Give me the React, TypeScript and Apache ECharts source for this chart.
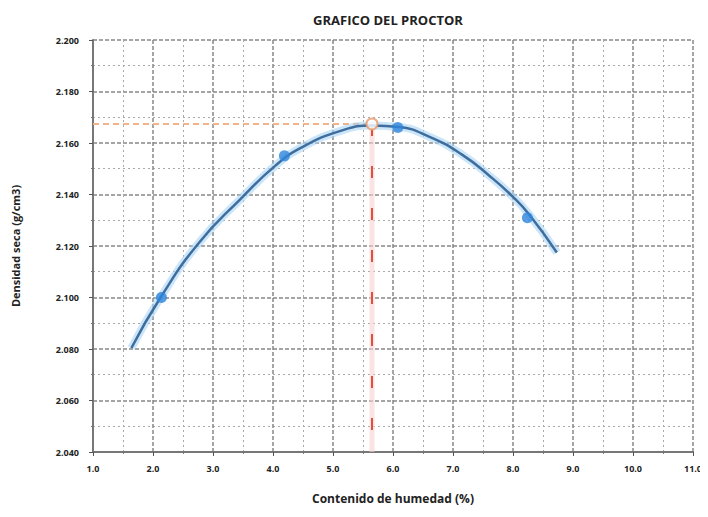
import React, { useEffect, useRef } from "react";
import * as echarts from "echarts";

const curveX = [1.64, 2.12, 2.76, 3.47, 4.04, 4.47, 5.1, 5.65, 6.1, 6.6, 7.15, 7.61, 7.99, 8.27, 8.73];
const curveY = [2.0804, 2.0998, 2.1211, 2.1385, 2.1512, 2.1582, 2.1645, 2.1668, 2.1662, 2.1625, 2.1555, 2.1472, 2.1393, 2.1322, 2.1175];
const pointX = [2.14, 4.19, 6.08, 8.24];
const pointY = [2.1, 2.155, 2.166, 2.131];
const optMoisture = 5.65;
const maxDensity = 2.1674;
const xTicks = { min: 1, max: 11, interval: 1 };
const yTicks = { min: 2.04, max: 2.2, interval: 0.02 };

export default function App() {
  const ref = useRef<HTMLDivElement>(null);
  useEffect(() => {
    if (!ref.current) return;
    const chart = echarts.init(ref.current, null, { renderer: "svg" });
    const curve = curveX.map((x, i) => [x, curveY[i]]);
    const pts = pointX.map((x, i) => [x, pointY[i]]);
    const font = "Open Sans";
    chart.setOption({
      animation: false,
      backgroundColor: "#ffffff",
      title: {
        text: "GRAFICO DEL PROCTOR",
        left: 383,
        top: 8,
        textAlign: "center",
        textStyle: { fontFamily: font, fontWeight: "bold", fontSize: 13, color: "#222" },
      },
      grid: { left: 93, right: 15, top: 40, bottom: 65 },
      xAxis: {
        type: "value",
        min: xTicks.min,
        max: xTicks.max,
        interval: xTicks.interval,
        name: "Contenido de humedad (%)",
        nameLocation: "middle",
        nameGap: 40,
        nameTextStyle: { fontFamily: font, fontWeight: "bold", fontSize: 12, color: "#222" },
        axisLabel: {
          formatter: (v: number) => v.toFixed(1),
          fontFamily: font,
          fontWeight: "bold",
          fontSize: 9,
          color: "#222",
          margin: 12,
        },
        axisLine: { lineStyle: { color: "#777", width: 2 } },
        axisTick: { show: true, length: 4, lineStyle: { color: "#555" } },
        splitLine: { show: true, lineStyle: { color: "#888", type: [4, 2], width: 1.5 } },
        minorTick: { show: true, splitNumber: 2, length: 2 },
        minorSplitLine: { show: true, lineStyle: { color: "#aaa", type: [2, 3], width: 1 } },
      },
      yAxis: {
        type: "value",
        min: yTicks.min,
        max: yTicks.max,
        interval: yTicks.interval,
        name: "Densidad seca (g/cm3)",
        nameLocation: "middle",
        nameGap: 72,
        nameTextStyle: { fontFamily: font, fontWeight: "bold", fontSize: 11, color: "#222" },
        axisLabel: {
          formatter: (v: number) => v.toFixed(3),
          fontFamily: font,
          fontWeight: "bold",
          fontSize: 9,
          color: "#222",
          margin: 14,
        },
        axisLine: { show: true, lineStyle: { color: "#777", width: 2 } },
        axisTick: { show: true, length: 4, lineStyle: { color: "#555" } },
        splitLine: { show: true, lineStyle: { color: "#888", type: [4, 2], width: 1.5 } },
        minorTick: { show: true, splitNumber: 2, length: 2 },
        minorSplitLine: { show: true, lineStyle: { color: "#aaa", type: [2, 3], width: 1 } },
      },
      series: [
        {
          type: "line",
          data: [[xTicks.min, maxDensity], [optMoisture, maxDensity]],
          symbol: "none",
          lineStyle: { color: "#f2b38a", width: 2, type: [6, 4] },
          z: 3,
        },
        {
          type: "line",
          data: [[optMoisture, maxDensity], [optMoisture, yTicks.min]],
          symbol: "none",
          lineStyle: { color: "#f6d0d3", width: 5, opacity: 0.6 },
          z: 3,
        },
        {
          type: "line",
          data: [[optMoisture, maxDensity], [optMoisture, yTicks.min]],
          symbol: "none",
          lineStyle: { color: "#e0503a", width: 2, type: [12, 30] },
          z: 4,
        },
        {
          type: "line",
          data: curve,
          smooth: 0.5,
          symbol: "none",
          lineStyle: { color: "#a9d4f5", width: 8, opacity: 0.6 },
          z: 5,
        },
        {
          type: "line",
          data: curve,
          smooth: 0.5,
          symbol: "none",
          lineStyle: { color: "#3f6e9e", width: 2.5 },
          z: 6,
        },
        {
          type: "scatter",
          data: pts,
          symbol: "circle",
          symbolSize: 11,
          itemStyle: { color: "#2f86dc" },
          z: 7,
        },
        {
          type: "scatter",
          data: [[optMoisture, maxDensity]],
          symbol: "emptyCircle",
          symbolSize: 11,
          itemStyle: { color: "#e59a6a", borderColor: "#e59a6a", borderWidth: 2 },
          z: 10,
        },
      ],
    });
    return () => chart.dispose();
  }, []);
  return <div ref={ref} style={{ width: 708, height: 517, margin: -8 }} />;
}
